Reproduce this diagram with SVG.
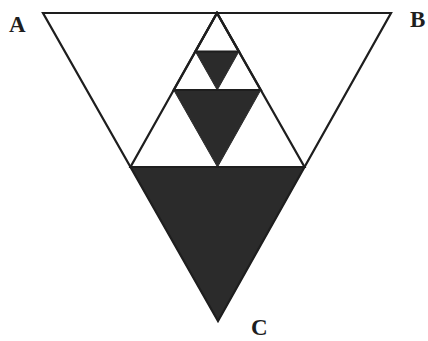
<svg xmlns="http://www.w3.org/2000/svg" width="428" height="341" viewBox="0 0 428 341">
  <style>
    .edge { fill: none; stroke: #1e1e1e; stroke-width: 2.2; stroke-linejoin: miter; }
    .solid { fill: #2b2b2b; stroke: #2b2b2b; stroke-width: 1; stroke-linejoin: miter; }
    .lbl { font-family: "Liberation Serif", "Times New Roman", serif; font-weight: bold; font-size: 23px; fill: #1e1e1e; }
  </style>
  <rect width="428" height="341" fill="#ffffff"/>
  <g id="filled">
    <polygon class="solid" points="130.5,167 304.5,167 218,321"/>
    <polygon class="solid" points="173.75,90 260.75,90 217.5,167"/>
    <polygon class="solid" points="195.4,51.5 238.9,51.5 217.25,90"/>
  </g>
  <g id="connectors">
    <polygon class="edge" points="43,13 391,13 218,321"/>
    <polygon class="edge" points="217,13 130.5,167 304.5,167"/>
    <polygon class="edge" points="217,13 173.75,90 260.75,90"/>
    <polygon class="edge" points="217,13 195.4,51.5 238.9,51.5"/>
  </g>
  <g id="A"><text class="lbl" x="9" y="32">A</text></g>
  <g id="B"><text class="lbl" x="410" y="27">B</text></g>
  <g id="C"><text class="lbl" x="251" y="335">C</text></g>
</svg>
